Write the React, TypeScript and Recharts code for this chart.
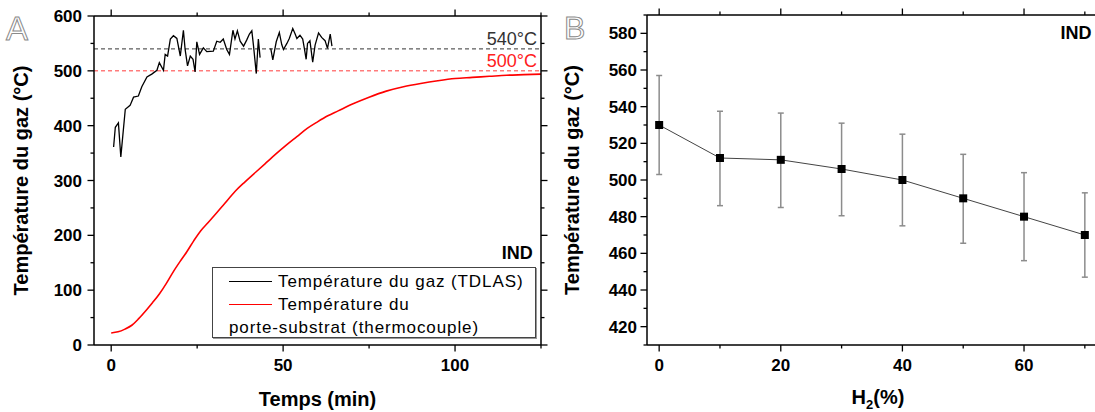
import { LineChart, Line, XAxis, YAxis, ReferenceLine, Legend, ErrorBar } from "recharts";

const FONT = '"Liberation Sans", Arial, Helvetica, sans-serif';

// panel A - gas temperature (TDLAS) vs time, null = gap in the measurement
const gasTime = [
  0.7, 1.2, 2.1, 2.8, 4.1, 5.5, 6.5, 7.9, 8.9, 10.4, 11.8, 13.3, 14.0, 15.2, 15.7, 16.4, 17.2, 18.1, 19.1, 20.1,
  21.0, 21.5, 22.2, 23.0, 23.8, 24.4, 24.9, 25.7, 26.8, 27.8, 29.7, 30.7, 31.7, 32.6, 33.6, 34.4, 35.4, 36.0, 36.7,
  37.5, 38.5, 39.4, 40.2, 40.9, 41.4, 42.2, 42.8, 43.3, 45, 46.4, 47.0, 48.0, 48.9, 49.6, 50.1, 51.1, 51.8, 52.8,
  53.5, 54.0, 54.9, 55.7, 56.2, 56.7, 57.1, 57.8, 58.6, 59.3, 60.3, 61.2, 62.2, 62.9, 63.7, 64.2,
];
const gasTemp = [
  361, 397, 405, 343, 430, 437, 452, 454, 471, 489, 494, 501, 515, 501, 530, 527, 558, 564, 559, 527,
  574, 539, 509, 527, 521, 498, 553, 530, 542, 535, 536, 554, 552, 558, 539, 530, 574, 558, 573,
  554, 545, 556, 567, 573, 545, 495, 558, 524, null, 541, 520, 553, 570, 548, 539, 550, 559, 577,
  567, 559, 565, 558, 540, 521, 550, 555, 516, 547, 569, 561, 555, 541, 567, 545,
];

// panel A - substrate holder (thermocouple)
const substrateTime = [
  0, 2, 4, 6, 8, 10, 12, 14, 16, 18, 20, 22, 24, 26, 28, 30, 33, 36, 39, 42, 45, 48, 51, 54, 57, 60, 63, 66,
  70, 75, 80, 85, 90, 95, 100, 105, 110, 115, 120, 125,
];
const substrateTemp = [
  22, 24, 29, 36, 48, 62, 77, 93, 112, 133, 152, 170, 190, 208, 222, 236, 258, 280, 298, 315, 332, 349, 365,
  380, 395, 407, 418, 427, 439, 452, 463, 471, 477, 482, 486, 488, 490, 492, 493, 494,
];

const timeTicks = [0, 25, 50, 75, 100, 125];
const tempTicks = [0, 50, 100, 150, 200, 250, 300, 350, 400, 450, 500, 550, 600];

// panel B - gas temperature vs H2 fraction
const h2Percent = [0, 10, 20, 30, 40, 50, 60, 70];
const h2Temp = [530, 512, 511, 506, 500, 490, 480, 470];
const h2Low = [503, 486, 485, 480.5, 475, 465.5, 456, 447];
const h2High = [557, 537.5, 536.5, 531, 525, 514, 504, 493];

const h2Ticks = [0, 10, 20, 30, 40, 50, 60, 70];
const h2TempTicks = [410, 420, 430, 440, 450, 460, 470, 480, 490, 500, 510, 520, 530, 540, 550, 560, 570, 580, 590];

const gasData = gasTime.map((t, i) => ({ t, temp: gasTemp[i] }));
const substrateData = substrateTime.map((t, i) => ({ t, temp: substrateTemp[i] }));
const h2Data = h2Percent.map((h, i) => ({
  h,
  temp: h2Temp[i],
  err: [h2Temp[i] - h2Low[i], h2High[i] - h2Temp[i]],
}));

const axisLine = { stroke: "#000", strokeWidth: 1.5 };

// draws major/minor tick marks (recharts has no minor ticks) plus the label of major ones
function axisTick(side: string, majorStep: number, labels: boolean, gap = 12) {
  return (props: any) => {
    const { x, y, payload } = props;
    const v = payload.value;
    const major = v % majorStep === 0;
    const len = major ? 6.5 : 3.5;
    let x2 = x;
    let y2 = y;
    if (side === "left") x2 = x - len;
    if (side === "right") x2 = x + len;
    if (side === "top") y2 = y - len;
    if (side === "bottom") y2 = y + len;
    return (
      <g>
        <line x1={x} y1={y} x2={x2} y2={y2} stroke="#000" strokeWidth={1.3} />
        {labels && major && side === "left" && (
          <text x={x - gap} y={y} dy="0.36em" textAnchor="end" fontSize={17} fontWeight="bold" fill="#000">
            {v}
          </text>
        )}
        {labels && major && side === "bottom" && (
          <text x={x} y={y + 26} textAnchor="middle" fontSize={17} fontWeight="bold" fill="#000">
            {v}
          </text>
        )}
      </g>
    );
  };
}

function GasLegend() {
  const row = { display: "flex", alignItems: "center", height: 23 } as const;
  const swatch = (c: string) => <span style={{ width: 43, height: 0, borderTop: `1.5px solid ${c}`, marginRight: 6 }} />;
  return (
    <div
      style={{
        boxSizing: "border-box",
        width: 324,
        height: 71,
        border: "1px solid #444",
        boxShadow: "1px 1px 0 #999",
        background: "#fff",
        padding: "2px 0 0 16px",
        fontSize: 17,
        letterSpacing: 0.9,
        color: "#000",
        fontFamily: FONT,
        lineHeight: "23px",
      }}
    >
      <div style={row}>
        {swatch("#000")}
        <span>Température du gaz (TDLAS)</span>
      </div>
      <div style={row}>
        {swatch("#ff0000")}
        <span>Température du</span>
      </div>
      <div style={row}>
        <span>porte-substrat (thermocouple)</span>
      </div>
    </div>
  );
}

function PanelA() {
  return (
    <LineChart width={560} height={412} margin={{ top: 0, right: 0, bottom: 0, left: 0 }}>
      <XAxis
        xAxisId="b"
        dataKey="t"
        type="number"
        domain={[-5, 125]}
        ticks={timeTicks}
        interval={0}
        allowDataOverflow
        height={67}
        axisLine={axisLine}
        tickLine={false}
        tickSize={0}
        tickMargin={0}
        tick={axisTick("bottom", 50, true)}
        label={{ value: "Temps (min)", position: "insideBottom", offset: 6, fontSize: 20, fontWeight: "bold", fill: "#000" }}
      />
      <XAxis
        xAxisId="t"
        dataKey="t"
        type="number"
        orientation="top"
        domain={[-5, 125]}
        ticks={timeTicks}
        interval={0}
        allowDataOverflow
        height={16}
        axisLine={axisLine}
        tickLine={false}
        tickSize={0}
        tickMargin={0}
        tick={axisTick("top", 50, false)}
      />
      <YAxis
        yAxisId="l"
        type="number"
        domain={[0, 600]}
        ticks={tempTicks}
        interval={0}
        allowDataOverflow
        width={94}
        axisLine={axisLine}
        tickLine={false}
        tickSize={0}
        tickMargin={0}
        tick={axisTick("left", 100, true, 12)}
        label={{
          value: "Température du gaz (°C)",
          angle: -90,
          position: "insideLeft",
          offset: 21,
          style: { textAnchor: "middle" },
          fontSize: 20,
          fontWeight: "bold",
          fill: "#000",
        }}
      />
      <YAxis
        yAxisId="r"
        orientation="right"
        type="number"
        domain={[0, 600]}
        ticks={tempTicks}
        interval={0}
        allowDataOverflow
        width={19}
        axisLine={axisLine}
        tickLine={false}
        tickSize={0}
        tickMargin={0}
        tick={axisTick("right", 100, false)}
      />
      <ReferenceLine
        xAxisId="b"
        yAxisId="l"
        y={540}
        stroke="#333"
        strokeDasharray="4 3"
        label={{ value: "540°C", position: "insideBottomRight", offset: 4, fontSize: 18, fill: "#333" }}
      />
      <ReferenceLine
        xAxisId="b"
        yAxisId="l"
        y={500}
        stroke="#ff3b3b"
        strokeDasharray="4 3"
        label={{ value: "500°C", position: "insideBottomRight", offset: 4, fontSize: 18, fill: "#ff2020" }}
      />
      <Line
        xAxisId="b"
        yAxisId="l"
        data={substrateData}
        dataKey="temp"
        type="monotone"
        stroke="#ff0000"
        strokeWidth={1.6}
        dot={false}
        isAnimationActive={false}
      />
      <Line
        xAxisId="b"
        yAxisId="l"
        data={gasData}
        dataKey="temp"
        type="linear"
        stroke="#000"
        strokeWidth={1.3}
        dot={false}
        isAnimationActive={false}
      />
      <Legend
        layout="vertical"
        align="center"
        verticalAlign="middle"
        wrapperStyle={{ left: 212, top: 267, width: 324, height: 71 }}
        content={() => <GasLegend />}
      />
    </LineChart>
  );
}

function PanelB() {
  return (
    <LineChart width={560} height={412} margin={{ top: 0, right: 23, bottom: 0, left: 0 }}>
      <XAxis
        xAxisId="b"
        dataKey="h"
        type="number"
        domain={[-2, 72]}
        ticks={h2Ticks}
        interval={0}
        allowDataOverflow
        height={67}
        axisLine={axisLine}
        tickLine={false}
        tickSize={0}
        tickMargin={0}
        tick={axisTick("bottom", 20, true)}
        label={{
          content: (p: any) => {
            const vb = p.viewBox;
            return (
              <text x={vb.x + vb.width / 2 + 6} y={403.5} textAnchor="middle" fontSize={20} fontWeight="bold" fill="#000">
                <tspan>H</tspan>
                <tspan fontSize={13} dy={5}>2</tspan>
                <tspan dy={-5}>(%)</tspan>
              </text>
            );
          },
        }}
      />
      <XAxis
        xAxisId="t"
        dataKey="h"
        type="number"
        orientation="top"
        domain={[-2, 72]}
        ticks={h2Ticks}
        interval={0}
        allowDataOverflow
        height={15}
        axisLine={axisLine}
        tickLine={false}
        tickSize={0}
        tickMargin={0}
        tick={axisTick("top", 20, false)}
      />
      <YAxis
        yAxisId="l"
        type="number"
        domain={[410, 590]}
        ticks={h2TempTicks}
        interval={0}
        allowDataOverflow
        width={87}
        axisLine={axisLine}
        tickLine={false}
        tickSize={0}
        tickMargin={0}
        tick={axisTick("left", 20, true, 10)}
        label={{
          value: "Température du gaz (°C)",
          angle: -90,
          position: "insideLeft",
          offset: 12,
          style: { textAnchor: "middle" },
          fontSize: 20,
          fontWeight: "bold",
          fill: "#000",
        }}
      />
      <Line
        xAxisId="b"
        yAxisId="l"
        data={h2Data}
        dataKey="temp"
        type="linear"
        stroke="#444"
        strokeWidth={1}
        isAnimationActive={false}
        dot={(p: any) => <rect key={`sq-${p.index}`} x={p.cx - 4} y={p.cy - 4} width={8} height={8} fill="#000" />}
      >
        <ErrorBar dataKey="err" direction="y" width={3} stroke="#8c8c8c" strokeWidth={1.5} />
      </Line>
    </LineChart>
  );
}

export default function App() {
  return (
    <div
      style={{
        position: "absolute",
        left: 0,
        top: 0,
        width: 1095,
        height: 412,
        overflow: "hidden",
        background: "#fff",
        fontFamily: FONT,
      }}
    >
      <div style={{ position: "absolute", left: 0, top: 0 }}>
        <PanelA />
      </div>
      <div style={{ position: "absolute", left: 560, top: 0 }}>
        <PanelB />
      </div>
      <svg
        width={1095}
        height={412}
        style={{ position: "absolute", left: 0, top: 0, pointerEvents: "none" }}
        fontFamily={FONT}
      >
        <text x={6} y={40.3} fontSize={33} fill="#fff" stroke="#8a8a8a" strokeWidth={1}>
          A
        </text>
        <text x={564} y={39.3} fontSize={32} fill="#fff" stroke="#8a8a8a" strokeWidth={1}>
          B
        </text>
        <text x={532.7} y={259.3} textAnchor="end" fontSize={18} fontWeight="bold" fill="#000">
          IND
        </text>
        <text x={1091.5} y={39.3} textAnchor="end" fontSize={18} fontWeight="bold" fill="#000">
          IND
        </text>
      </svg>
    </div>
  );
}
